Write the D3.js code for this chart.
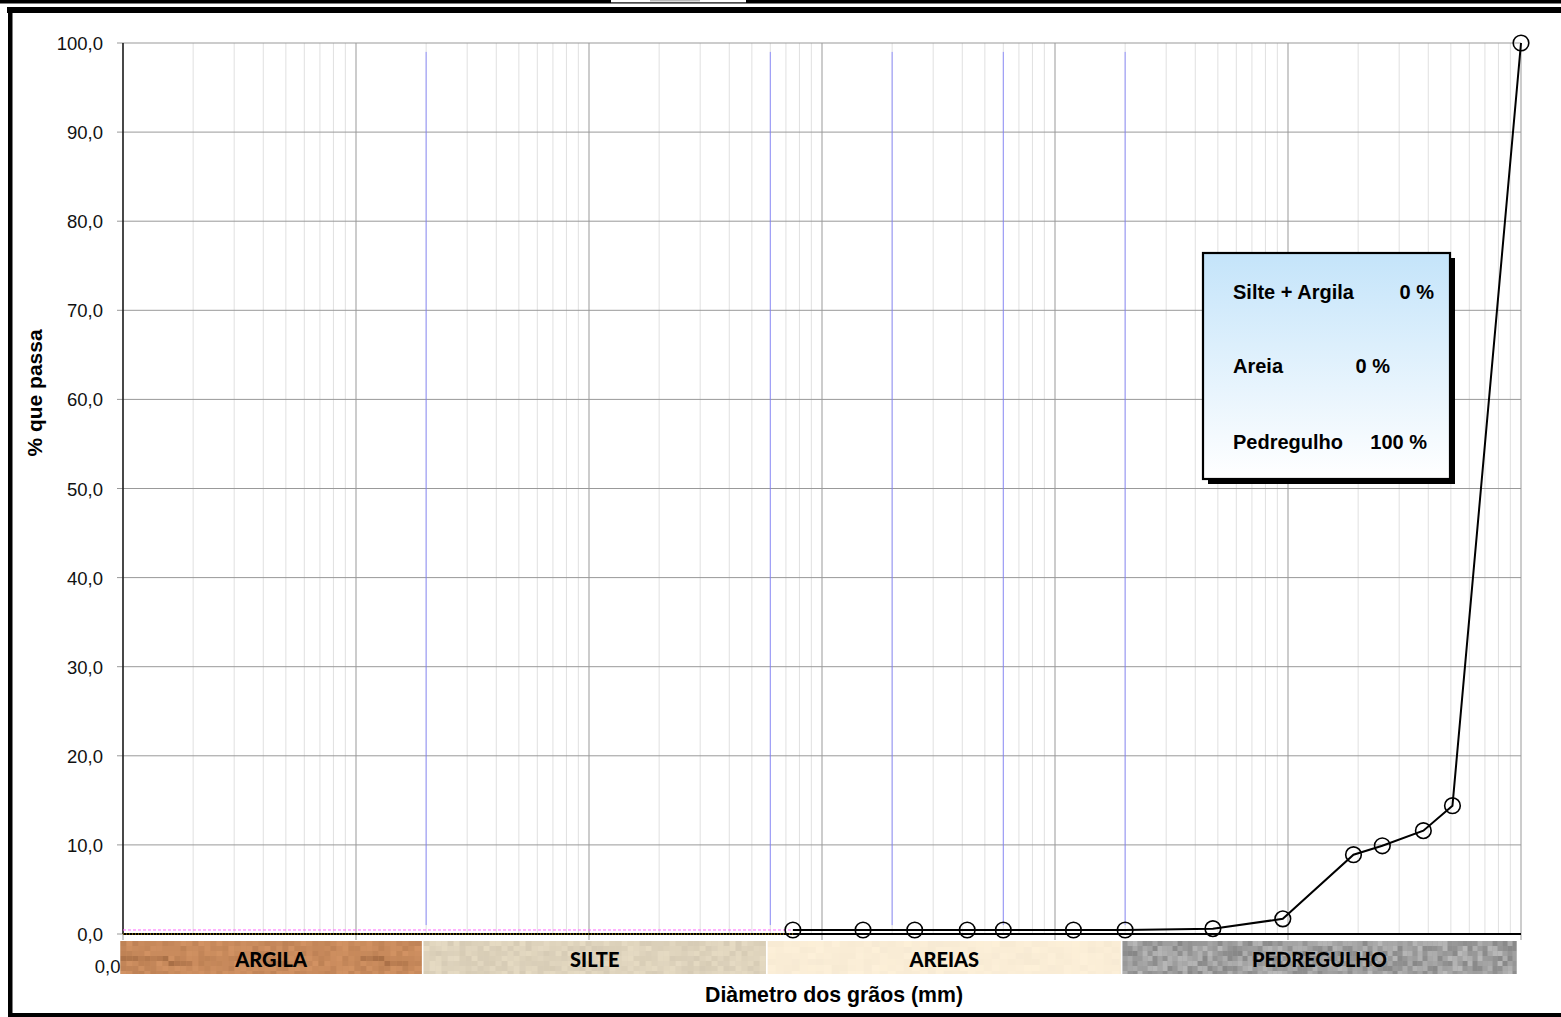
<!DOCTYPE html>
<html><head><meta charset="utf-8">
<script src="https://cdn.jsdelivr.net/npm/d3@7"></script>
<style>
html,body{margin:0;padding:0;background:#fff;}
svg{display:block;}
text{font-family:"Liberation Sans",Arial,sans-serif;}
</style></head>
<body>
<svg id="chart" width="1561" height="1017"></svg>
<script>
// ---- data ----
const sieveSizes = [0.075, 0.15, 0.25, 0.42, 0.6, 1.2, 2.0, 4.76, 9.5, 19.1, 25.4, 38.1, 50.8, 100];
const passing    = [0.45, 0.45, 0.45, 0.45, 0.45, 0.45, 0.45, 0.6, 1.7, 8.9, 9.9, 11.6, 14.4, 100];
const pinkX = [0.0001, 0.075];
const pinkY = [0.45, 0.45];
const zeroX = [0.0001, 0.075];
const zeroY = [0, 0];
const yTicks = [0,10,20,30,40,50,60,70,80,90,100];
const xMajorTicks = [0.0001, 0.001, 0.01, 0.1, 1, 10, 100];
const xTickLabels = ["0,0001"]; // the other tick labels are hidden behind the class bands
const boundaries = [0.002, 0.06, 0.2, 0.6, 2.0];
const classNames = ["ARGILA", "SILTE", "AREIAS", "PEDREGULHO"];
const classLimits = [[0.0001, 0.002], [0.002, 0.06], [0.06, 2.0], [2.0, 100]];
const summaryLabels = ["Silte + Argila", "Areia", "Pedregulho"];
const summaryValues = ["0 %", "0 %", "100 %"];
const xTitle = "Diàmetro dos grãos (mm)";
const yTitle = "% que passa";

// ---- layout ----
const L = 123, R = 1521, T = 43, B = 934;
const svg = d3.select("#chart");
const x = d3.scaleLog().domain([0.0001, 100]).range([L, R]);
const y = d3.scaleLinear().domain([0, 100]).range([B, T]);

// frame decorations
svg.append("rect").attr("x",0).attr("y",0).attr("width",1561).attr("height",3.5).attr("fill","#000");
svg.append("rect").attr("x",611).attr("y",0).attr("width",135).attr("height",2.3).attr("fill","#fff");
svg.append("rect").attr("x",650).attr("y",0).attr("width",50).attr("height",1.5).attr("fill","#bbb");
svg.append("rect").attr("x",7).attr("y",7).attr("width",1554).attr("height",6).attr("fill","#000");
svg.append("rect").attr("x",8).attr("y",7).attr("width",4.5).attr("height",1010).attr("fill","#000");
svg.append("rect").attr("x",8).attr("y",1013).attr("width",1553).attr("height",4).attr("fill","#000");

// minor gridlines
const minors = [];
for (let e = -4; e < 2; e++) for (let k = 2; k <= 9; k++) minors.push(k * Math.pow(10, e));
svg.append("g").selectAll("line").data(minors).join("line")
  .attr("x1", d => x(d)).attr("x2", d => x(d)).attr("y1", T).attr("y2", B)
  .attr("stroke", "#e0e0e0").attr("stroke-width", 1);

// major vertical gridlines
svg.append("g").selectAll("line").data(xMajorTicks).join("line")
  .attr("x1", d => x(d)).attr("x2", d => x(d)).attr("y1", T).attr("y2", B + 6)
  .attr("stroke", "#999").attr("stroke-width", 1);

// horizontal gridlines + y ticks
svg.append("g").selectAll("line").data(yTicks).join("line")
  .attr("x1", L - 6).attr("x2", R).attr("y1", d => y(d)).attr("y2", d => y(d))
  .attr("stroke", "#999").attr("stroke-width", 1);

// boundary (blue) lines
svg.append("g").selectAll("line").data(boundaries).join("line")
  .attr("x1", d => x(d)).attr("x2", d => x(d)).attr("y1", y(99)).attr("y2", y(1))
  .attr("stroke", "#7b7bff").attr("stroke-opacity", 0.8).attr("stroke-width", 1);

// y axis line
svg.append("line").attr("x1", L).attr("x2", L).attr("y1", T).attr("y2", B).attr("stroke", "#000").attr("stroke-width", 1.3);
// x axis line
svg.append("line").attr("x1", L).attr("x2", R).attr("y1", B).attr("y2", B).attr("stroke", "#000").attr("stroke-width", 2);

// zero dotted series and pink dashed series
const ln = d3.line().x(d => x(d[0])).y(d => y(d[1]));
svg.append("path").datum(zeroX.map((v,i)=>[v,zeroY[i]])).attr("d", ln)
  .attr("fill","none").attr("stroke","#d9a300").attr("stroke-width",1).attr("stroke-dasharray","1,2");
svg.append("path").datum(pinkX.map((v,i)=>[v,pinkY[i]])).attr("d", ln)
  .attr("fill","none").attr("stroke","#ff66ff").attr("stroke-width",1).attr("stroke-dasharray","3,2");

// y tick labels
svg.append("g").selectAll("text").data(yTicks).join("text")
  .attr("x", 103).attr("y", d => y(d) + 7)
  .attr("text-anchor", "end").attr("font-size", "18.5px").attr("fill", "#111")
  .text(d => d3.format(".1f")(d).replace(".", ","));

// x tick labels
svg.append("g").selectAll("text").data(xTickLabels).join("text")
  .attr("x", (d, i) => x(xMajorTicks[i])).attr("y", 973)
  .attr("text-anchor", "middle").attr("font-size", "18.5px").attr("fill", "#111")
  .text(d => d);

// main series
const pts = sieveSizes.map((v, i) => [v, passing[i]]);
svg.append("path").datum(pts).attr("d", ln)
  .attr("fill", "none").attr("stroke", "#000").attr("stroke-width", 2);
svg.append("g").selectAll("circle").data(pts).join("circle")
  .attr("cx", d => x(d[0])).attr("cy", d => y(d[1])).attr("r", 7.8)
  .attr("fill", "none").attr("stroke", "#000").attr("stroke-width", 1.6);

// class bands with textures (deterministic hash noise, decoration only)
function h(i, j, k) { const s = Math.sin(i * 12.9898 + j * 78.233 + k * 37.719) * 43758.5453; return s - Math.floor(s); }
const bandStyles = [
  {base:[200,138,92], amp:20, bw:6, bh:5},
  {base:[222,211,188], amp:16, bw:6, bh:5},
  {base:[250,237,214], amp:6, bw:8, bh:6},
  {base:[160,160,160], amp:50, bw:5, bh:5}
];
const bandY = 941, bandH = 33;
const bands = svg.append("g");
classLimits.forEach((lim, ci) => {
  const x0 = x(lim[0]) - 2.5, x1 = x(lim[1]) - 4.5;
  const st = bandStyles[ci];
  const g = bands.append("g");
  g.append("rect").attr("x", x0).attr("y", bandY).attr("width", x1 - x0).attr("height", bandH)
    .attr("fill", d3.rgb(...st.base));
  const cells = [];
  for (let cx = x0, i = 0; cx < x1; cx += st.bw, i++) {
    for (let cy = bandY, j = 0; cy < bandY + bandH; cy += st.bh, j++) {
      const r = h(i, j, ci) - 0.5;
      let c;
      if (ci === 0) {
        const seg = Math.floor(i / 4);
        const streak = ((j === 3 || j === 4) && h(seg, j, 9) > 0.7) ? -22 : 0;
        const dv = r * st.amp + streak;
        c = d3.rgb(st.base[0] + dv, st.base[1] + dv * 0.85, st.base[2] + dv * 0.7);
      } else {
        const dv = r * st.amp;
        c = d3.rgb(st.base[0] + dv, st.base[1] + dv, st.base[2] + dv * (ci === 3 ? 1 : 0.9));
      }
      cells.push({x: cx, y: cy, w: Math.min(st.bw, x1 - cx), hh: Math.min(st.bh, bandY + bandH - cy), c});
    }
  }
  g.selectAll("rect.c").data(cells).join("rect").attr("class", "c")
    .attr("x", d => d.x).attr("y", d => d.y).attr("width", d => d.w).attr("height", d => d.hh)
    .attr("fill", d => d.c);
  g.append("text").attr("x", (x0 + x1) / 2).attr("y", 967).attr("text-anchor", "middle")
    .style("font-family", "Lato, 'Open Sans', sans-serif").style("font-weight", "900")
    .attr("font-size", "20px").attr("fill", "#000").text(classNames[ci]);
});

// axis titles
svg.append("text").attr("x", 834).attr("y", 1002).attr("text-anchor", "middle")
  .attr("font-size", "21.3px").attr("font-weight", "bold").attr("fill", "#000").text(xTitle);
svg.append("text").attr("transform", "translate(42,393) rotate(-90)").attr("text-anchor", "middle")
  .attr("font-size", "21px").attr("font-weight", "bold").attr("fill", "#000").text(yTitle);

// summary box
const defs = svg.append("defs");
const grad = defs.append("linearGradient").attr("id", "boxg").attr("x1", 0).attr("y1", 0).attr("x2", 0).attr("y2", 1);
grad.append("stop").attr("offset", "0%").attr("stop-color", "#c4e4fa");
grad.append("stop").attr("offset", "100%").attr("stop-color", "#ffffff");
const bx = 1203, by = 253, bwid = 247, bhei = 226;
svg.append("rect").attr("x", bx + 5).attr("y", by + 5).attr("width", bwid).attr("height", bhei).attr("fill", "#000");
svg.append("rect").attr("x", bx).attr("y", by).attr("width", bwid).attr("height", bhei)
  .attr("fill", "url(#boxg)").attr("stroke", "#000").attr("stroke-width", 2.2);
const rowY = [299, 373, 449];
const valX = [1434, 1390, 1427];
summaryLabels.forEach((lab, i) => {
  svg.append("text").attr("x", 1233).attr("y", rowY[i]).attr("font-size", "20px").attr("font-weight", "bold").text(lab);
  svg.append("text").attr("x", valX[i]).attr("y", rowY[i]).attr("text-anchor", "end")
    .attr("font-size", "20px").attr("font-weight", "bold").text(summaryValues[i]);
});
</script>
</body></html>
